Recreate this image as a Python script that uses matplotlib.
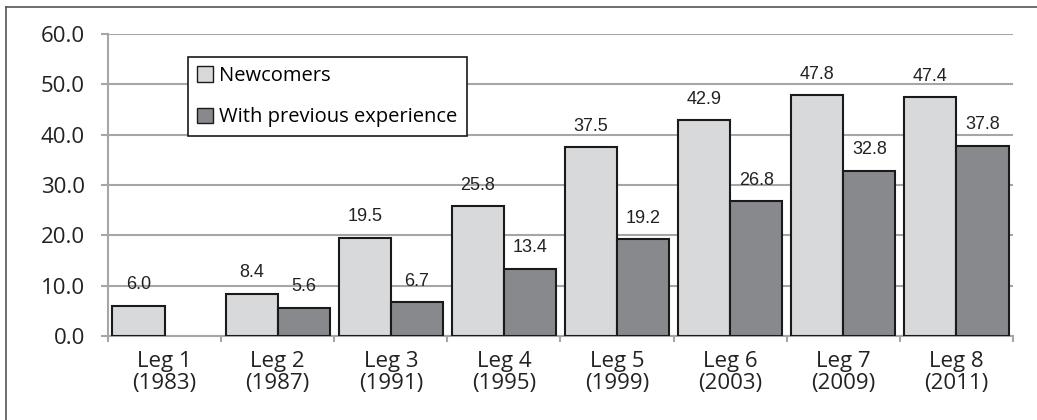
import numpy as np
import matplotlib.pyplot as plt
from matplotlib.lines import Line2D

# Data
legs = ['Leg 1\n(1983)', 'Leg 2\n(1987)', 'Leg 3\n(1991)', 'Leg 4\n(1995)',
        'Leg 5\n(1999)', 'Leg 6\n(2003)', 'Leg 7\n(2009)', 'Leg 8\n(2011)']
newcomers = [6.0, 8.4, 19.5, 25.8, 37.5, 42.9, 47.8, 47.4]
previous = [np.nan, 5.6, 6.7, 13.4, 19.2, 26.8, 32.8, 37.8]
yticks = [0, 10, 20, 30, 40, 50, 60]

light = '#d8d9db'
dark = '#88898c'
grid_col = '#a6a6a6'
text_col = '#222222'

fig = plt.figure(figsize=(10.37, 4.2), dpi=100)
ax = fig.add_axes([0.1041, 0.2, 0.8728, 0.719])

x = np.arange(len(legs))
w = 0.46
b1 = ax.bar(x, newcomers, width=-w, align='edge', color=light,
            edgecolor='#1a1a1a', linewidth=1.5, label='Newcomers', zorder=3)
b2 = ax.bar(x, previous, width=w, align='edge', color=dark,
            edgecolor='#1a1a1a', linewidth=1.5, label='With previous experience', zorder=3)

# value labels above bars
for bars, vals in [(b1, newcomers), (b2, previous)]:
    for rect, v in zip(bars, vals):
        if np.isnan(v):
            continue
        ax.annotate(f'{v:.1f}', (rect.get_x() + rect.get_width() / 2, v),
                    xytext=(0, 9), textcoords='offset points',
                    ha='center', va='bottom', fontsize=13,
                    family='Liberation Sans', color=text_col, zorder=4)

ax.set_xlim(-0.5, 7.5)
ax.set_ylim(0, 60)
ax.set_yticks(yticks)
ax.set_yticklabels([f'{t:.1f}' for t in yticks])
ax.yaxis.grid(True, color=grid_col, linewidth=1.5, zorder=0)

ax.set_xticks(x)
ax.set_xticklabels(legs, linespacing=1.05)
ax.set_xticks(np.arange(-0.5, 8.0, 1.0), minor=True)
ax.tick_params(axis='x', which='major', length=0, pad=11)
ax.tick_params(axis='x', which='minor', length=4, width=1.5, color=grid_col)
ax.tick_params(axis='y', length=5, width=1.5, color=grid_col, pad=11.5)
ax.tick_params(axis='both', which='major', labelsize=16,
               labelfontfamily='Open Sans', labelcolor=text_col)

for s in ['top', 'right']:
    ax.spines[s].set_visible(False)
for s in ['left', 'bottom']:
    ax.spines[s].set_color(grid_col)
    ax.spines[s].set_linewidth(1.5)

leg = ax.legend(loc='upper left', bbox_to_anchor=(0.1813, 0.864),
                bbox_transform=fig.transFigure, borderaxespad=0,
                fancybox=False, edgecolor='#1a1a1a', framealpha=1,
                prop={'family': 'Open Sans', 'size': 14.5},
                handlelength=0.8, handleheight=0.8, handletextpad=0.3,
                labelspacing=1.05, borderpad=0.45)
leg.get_frame().set_linewidth(1.2)
for h in leg.legend_handles:
    h.set_linewidth(1.0)

# outer frame (only left and top edges visible in crop)
fig.add_artist(Line2D([6 / 1037, 6 / 1037], [0, 1 - 7 / 420],
                      transform=fig.transFigure, color='#555555', linewidth=1.2))
fig.add_artist(Line2D([6 / 1037, 1], [1 - 7 / 420, 1 - 7 / 420],
                      transform=fig.transFigure, color='#555555', linewidth=1.2))

fig.savefig('out.png', dpi=100)
